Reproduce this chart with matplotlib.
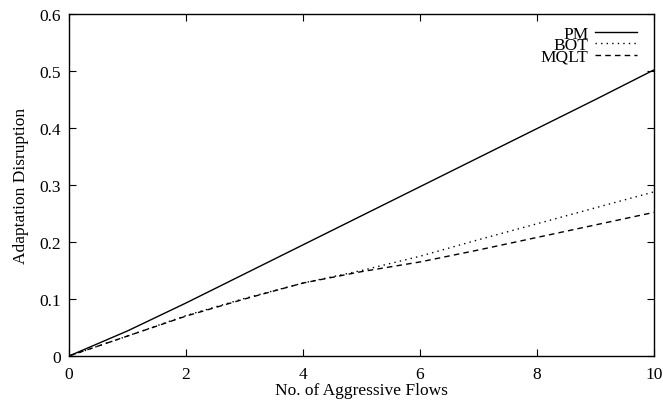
import matplotlib
matplotlib.use("Agg")
import matplotlib.pyplot as plt
import numpy as np

# Data
flows = [0, 1, 2, 3, 4, 5, 6, 7, 8, 9, 10]
pm = [0, 0.044, 0.093, 0.144, 0.195, 0.246, 0.297, 0.348, 0.399, 0.450, 0.502]
bot = [0, 0.035, 0.071, 0.101, 0.128, 0.150, 0.175, 0.204, 0.232, 0.260, 0.288]
mqlt = [0, 0.035, 0.070, 0.100, 0.128, 0.148, 0.165, 0.186, 0.208, 0.230, 0.252]

plt.rcParams['font.family'] = ['Liberation Serif', 'DejaVu Serif']

fig = plt.figure(figsize=(6.63, 4.02), dpi=100)
ax = fig.add_axes([69/663, 45/402, 585/663, 342/402])

ax.plot(flows, pm, color="black", linewidth=1.0, linestyle="-", label="PM")
ax.plot(flows, bot, color="black", linewidth=1.0, linestyle=(0, (1, 3)), label="BOT")
ax.plot(flows, mqlt, color="black", linewidth=1.0, linestyle=(0, (4, 3)), label="MQLT")

ax.set_xlim(0, 10)
ax.set_ylim(0, 0.6)
ax.set_xticks([0, 2, 4, 6, 8, 10])
ax.set_yticks([0, 0.1, 0.2, 0.3, 0.4, 0.5, 0.6])
ax.set_yticklabels(["0", "0.1", "0.2", "0.3", "0.4", "0.5", "0.6"])
ax.tick_params(direction="in", top=True, right=True, length=5, labelsize=12.5)
ax.tick_params(axis="x", pad=7)
ax.tick_params(axis="y", pad=6)
for s in ax.spines.values():
    s.set_linewidth(1.0)

ax.set_xlabel("No. of Aggressive Flows", fontsize=12.5, labelpad=0)
ax.set_ylabel("Adaptation Disruption", fontsize=12.5, labelpad=7)

leg = ax.legend(loc="upper right", frameon=False, fontsize=12.5, markerfirst=False,
                handlelength=2.4, handletextpad=0.4, labelspacing=-0.28,
                borderaxespad=0, borderpad=0, bbox_to_anchor=(0.971, 0.965))
for t in leg.get_texts():
    t.set_ha("right")

fig.savefig("out.png", dpi=100)
